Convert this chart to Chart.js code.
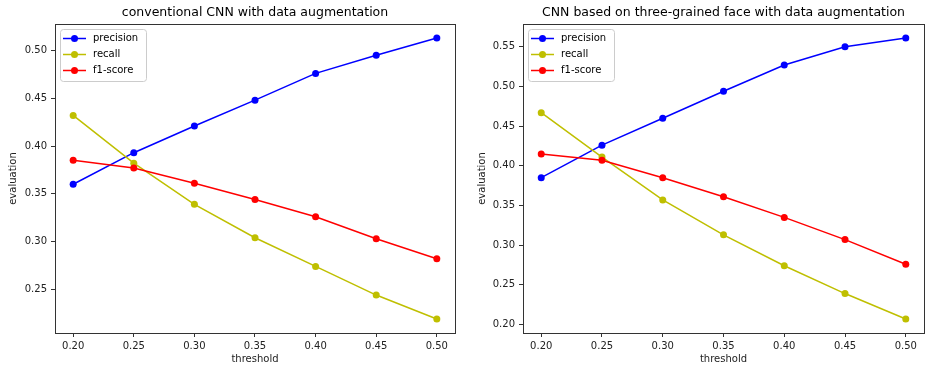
<!DOCTYPE html>
<html>
<head>
<meta charset="utf-8">
<script src="https://cdn.jsdelivr.net/npm/chart.js@4/dist/chart.umd.min.js"></script>
<style>
  html, body { margin: 0; padding: 0; background: #fff; }
  #wrap { position: relative; width: 928px; height: 367px; }
  .cell { position: absolute; top: 0; width: 464px; height: 367px; }
</style>
</head>
<body>
<div id="wrap">
  <div class="cell" style="left:0"><canvas id="left"></canvas></div>
  <div class="cell" style="left:464px"><canvas id="right"></canvas></div>
</div>
<script>
// values
var thresholds = [0.20, 0.25, 0.30, 0.35, 0.40, 0.45, 0.50];
var xTicks = [0.20, 0.25, 0.30, 0.35, 0.40, 0.45, 0.50];

var convPrecision = [0.360, 0.393, 0.421, 0.448, 0.476, 0.495, 0.513];
var convRecall    = [0.432, 0.382, 0.339, 0.304, 0.274, 0.244, 0.219];
var convF1        = [0.385, 0.377, 0.361, 0.344, 0.326, 0.303, 0.282];
var convYTicks    = [0.25, 0.30, 0.35, 0.40, 0.45, 0.50];

var tgPrecision = [0.385, 0.426, 0.460, 0.494, 0.527, 0.550, 0.561];
var tgRecall    = [0.467, 0.411, 0.357, 0.313, 0.274, 0.239, 0.207];
var tgF1        = [0.415, 0.407, 0.385, 0.361, 0.335, 0.307, 0.276];
var tgYTicks    = [0.20, 0.25, 0.30, 0.35, 0.40, 0.45, 0.50, 0.55];

var seriesNames = ['precision', 'recall', 'f1-score'];
var seriesColors = ['#0000ff', '#bfbf00', '#ff0000'];

var FONT = "'DejaVu Sans', sans-serif";

// matplotlib-style 5% margins around the data range
function padRange(vals) {
  var lo = Math.min.apply(null, vals), hi = Math.max.apply(null, vals);
  var m = (hi - lo) * 0.05;
  return [lo - m, hi + m];
}

// title centred over the axes, full box round them, legend inside upper left
var mplPlugin = {
  id: 'mplBox',
  afterDraw: function (chart, args, opts) {
    var a = chart.chartArea, ctx = chart.ctx;
    ctx.save();
    ctx.fillStyle = '#000';
    ctx.font = '12.5px ' + FONT;
    ctx.textAlign = 'center';
    ctx.textBaseline = 'middle';
    ctx.fillText(opts.title, (a.left + a.right) / 2, 12.5);

    ctx.strokeStyle = '#333';
    ctx.lineWidth = 1;
    ctx.strokeRect(Math.round(a.left) + 0.5, Math.round(a.top) + 0.5,
      Math.round(a.right - a.left), Math.round(a.bottom - a.top));

    var bx = a.left + 5, by = a.top + 5, bw = 86, bh = 52;
    ctx.fillStyle = 'rgba(255,255,255,0.8)';
    ctx.strokeStyle = '#cccccc';
    ctx.beginPath();
    ctx.roundRect(bx + 0.5, by + 0.5, bw, bh, 3);
    ctx.fill();
    ctx.stroke();

    ctx.font = '10px ' + FONT;
    ctx.textBaseline = 'middle';
    ctx.textAlign = 'left';
    seriesNames.forEach(function (name, i) {
      var y = by + 9.5 + i * 16;
      ctx.strokeStyle = seriesColors[i];
      ctx.lineWidth = 1.5;
      ctx.beginPath();
      ctx.moveTo(bx + 3, y);
      ctx.lineTo(bx + 26, y);
      ctx.stroke();
      ctx.fillStyle = seriesColors[i];
      ctx.beginPath();
      ctx.arc(bx + 14.5, y, 3.5, 0, Math.PI * 2);
      ctx.fill();
      ctx.fillStyle = '#000';
      ctx.fillText(name, bx + 33, y);
    });
    ctx.restore();
  },
};

function makePanel(canvas, spec) {
  var sets = [spec.precision, spec.recall, spec.f1];
  var yr = padRange(spec.precision.concat(spec.recall, spec.f1));
  var xr = padRange(thresholds);
  return new Chart(canvas, {
    type: 'line',
    data: {
      datasets: sets.map(function (vals, i) {
        return {
          label: seriesNames[i],
          data: thresholds.map(function (t, k) { return { x: t, y: vals[k] }; }),
          borderColor: seriesColors[i],
          backgroundColor: seriesColors[i],
          pointBackgroundColor: seriesColors[i],
          pointBorderWidth: 0,
          pointRadius: 3.5,
          borderWidth: 1.5,
          tension: 0,
          order: 2 - i,
        };
      }),
    },
    options: {
      responsive: true, maintainAspectRatio: false, animation: false,
      layout: { padding: { left: 0, right: spec.padRight, top: 24, bottom: 0 } },
      plugins: {
        legend: { display: false },
        tooltip: { enabled: false },
        title: { display: false },
        mplBox: { title: spec.title },
      },
      scales: {
        x: {
          type: 'linear', min: xr[0], max: xr[1],
          afterBuildTicks: function (s) { s.ticks = xTicks.map(function (v) { return { value: v }; }); },
          afterFit: function (s) { s.height = 34; },
          border: { display: false },
          grid: { display: true, drawOnChartArea: false, drawTicks: true, tickLength: 4, color: '#333' },
          ticks: {
            color: '#222', padding: 3, maxRotation: 0,
            font: { family: FONT, size: 10 },
            callback: function (v) { return v.toFixed(2); },
          },
          title: {
            display: true, text: 'threshold', color: '#222',
            font: { family: FONT, size: 10 }, padding: { top: 0, bottom: 2 },
          },
        },
        y: {
          type: 'linear', min: yr[0], max: yr[1],
          afterBuildTicks: function (s) { s.ticks = spec.yTicks.map(function (v) { return { value: v }; }); },
          afterFit: function (s) { s.width = spec.yWidth; },
          border: { display: false },
          grid: { display: true, drawOnChartArea: false, drawTicks: true, tickLength: 4, color: '#333' },
          ticks: {
            color: '#222', padding: 4,
            font: { family: FONT, size: 10 },
            callback: function (v) { return v.toFixed(2); },
          },
          title: {
            display: true, text: 'evaluation', color: '#222',
            font: { family: FONT, size: 10 }, padding: { top: spec.yTitlePad, bottom: 0 },
          },
        },
      },
    },
    plugins: [mplPlugin],
  });
}

makePanel(document.getElementById('left'), {
  title: 'conventional CNN with data augmentation',
  precision: convPrecision, recall: convRecall, f1: convF1,
  yTicks: convYTicks, yWidth: 55, yTitlePad: 7, padRight: 9,
});

makePanel(document.getElementById('right'), {
  title: 'CNN based on three-grained face with data augmentation',
  precision: tgPrecision, recall: tgRecall, f1: tgF1,
  yTicks: tgYTicks, yWidth: 59, yTitlePad: 12, padRight: 1,
});
</script>
</body>
</html>
